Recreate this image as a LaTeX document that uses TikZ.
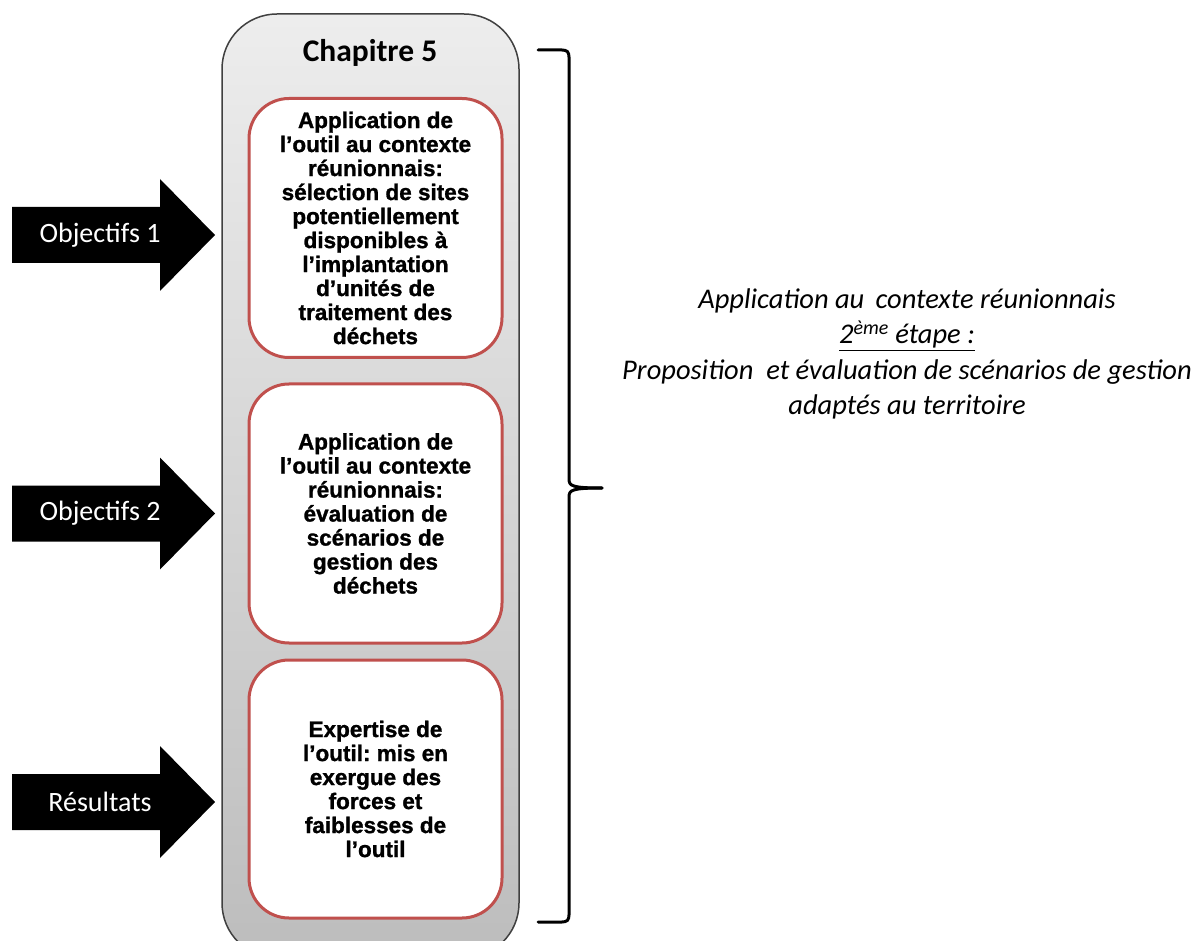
\documentclass[tikz,border=0pt]{standalone}
\usepackage{fontspec}
\setmainfont{Carlito}
\newfontfamily\boxfont[BoldFeatures={FakeBold=1.2}]{Liberation Sans}
\definecolor{boxred}{HTML}{C0504D}
\definecolor{frame}{HTML}{404040}
\frenchspacing
\begin{document}
\begin{tikzpicture}[x=1pt,y=-1pt,
  inbox/.style={draw=boxred, line width=3pt, fill=white, rounded corners=40pt,
    minimum width=253pt, inner sep=0pt, align=center,
    font=\boxfont\bfseries\fontsize{22.5}{24}\selectfont},
  arrlabel/.style={text=white, font=\fontsize{28}{30}\selectfont, inner sep=0pt},
  bracestyle/.style={line width=3pt, line cap=round, line join=round}]
\useasboundingbox (0,0) rectangle (1203,941);
\clip (0,0) rectangle (1203,941);
\fill[white] (0,0) rectangle (1203,941);
% container
\draw[draw=frame, line width=1.5pt, rounded corners=55pt,
  top color=black!7, bottom color=black!26] (222,14) rectangle (519,958);
\node[font=\bfseries\fontsize{31.5}{34}\selectfont, inner sep=0pt] (ch) at (370,53) {Chapitre 5};
% inner boxes
\node[inbox, minimum height=259pt] (b1) at (375.5,228) {Application de\\l’outil au contexte\\réunionnais:\\sélection de sites\\potentiellement\\disponibles à\\l’implantation\\d’unités de\\traitement des\\déchets};
\node[inbox, minimum height=259pt] (b2) at (375.5,513.5) {Application de\\l’outil au contexte\\réunionnais:\\évaluation de\\scénarios de\\gestion des\\déchets};
\node[inbox, minimum height=258pt] (b3) at (375.5,789) {Expertise de\\l’outil: mis en\\exergue des\\forces et\\faiblesses de\\l’outil};
% arrows
\foreach \cy/\lab/\nm in {235/Objectifs 1/o1, 513.5/Objectifs 2/o2, 802/Résultats/o3}{
  \fill[black] (12,\cy-28) -- (160,\cy-28) -- (160,\cy-56) -- (215,\cy) -- (160,\cy+56) -- (160,\cy+28) -- (12,\cy+28) -- cycle;
  \node[arrlabel] (\nm) at (100,\cy) {\lab};
}
% brace
\coordinate (tip) at (602,488);
\draw[bracestyle] (538,50) -- (562,50) .. controls (567,50) and (569,52) .. (569,57) -- (569,479)
  .. controls (569,486) and (572,488) .. (tip);
\draw[bracestyle] (tip) .. controls (572,488) and (569,490) .. (569,497) -- (569,915)
  .. controls (569,920) and (567,922) .. (562,922) -- (538,922);
% right text
\node[align=center, font=\itshape\fontsize{28.5}{35.5}\selectfont, inner sep=0pt] (rt) at (907,354)
  {Application au\ \,contexte réunionnais\\\underline{2\textsuperscript{ème} étape :}\\Proposition\ \ et évaluation de scénarios de gestion\\adaptés au territoire};
\end{tikzpicture}
\end{document}
